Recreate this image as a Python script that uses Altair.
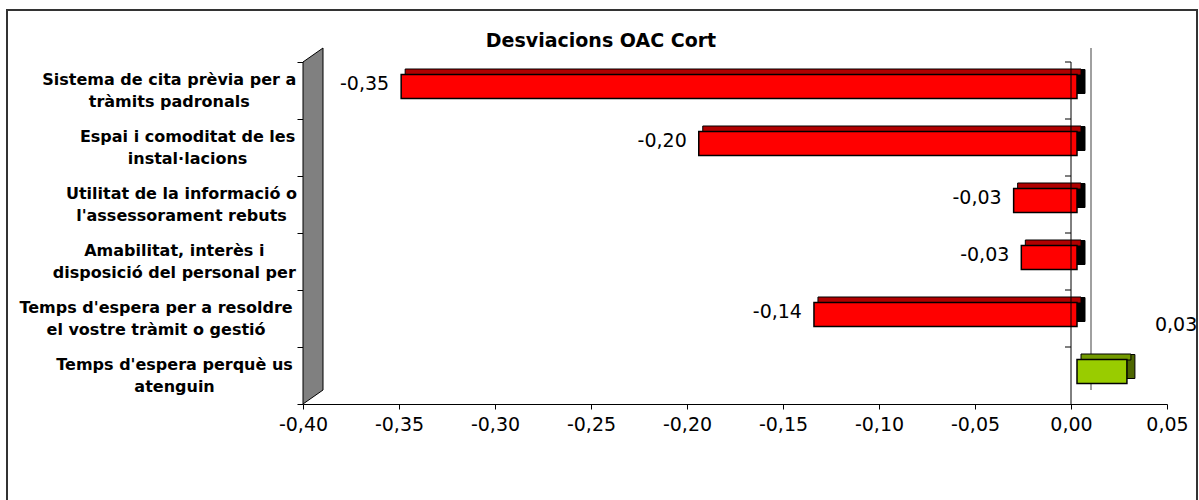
import altair as alt
import pandas as pd

# Category labels (line breaks marked with "|") and their deviation scores
categories = [
    "Sistema de cita prèvia per a|tràmits padronals",
    "Espai i comoditat de les|instal·lacions",
    "Utilitat de la informació o|l'assessorament rebuts",
    "Amabilitat, interès i|disposició del personal per",
    "Temps d'espera per a resoldre|el vostre tràmit o gestió",
    "Temps d'espera perquè us|atenguin",
]
deviations = [-0.352, -0.197, -0.033, -0.029, -0.137, 0.026]
tick_values = [-0.40, -0.35, -0.30, -0.25, -0.20, -0.15, -0.10, -0.05, 0.00, 0.05]
title_text = "Desviacions OAC Cort"

# Plot geometry (pixels)
W, H = 864, 342
WALL_DX, WALL_DY = 20, 14      # depth of the 3D side wall
BAR_DX, BAR_DY = 6, -4         # bars sit halfway into the depth
DEPTH_X, DEPTH_Y = 8, 5        # depth of each 3D bar
LABEL_RIGHT = -7               # right edge of the category label block

df = pd.DataFrame({"cat": categories, "v": deviations})
wall_df = pd.DataFrame({"px": [0, WALL_DX], "ptop": [0, -WALL_DY], "pbot": [H, H - WALL_DY]})
one = pd.DataFrame({"k": [0]})

num_fmt = "replace(replace(format({0}, '.2f'), '.', ','), '\u2212', '-')"


def count_expr(s, cls):
    return f"(length({s}) - length(replace({s}, regexp('{cls}', 'g'), '')))"


def width_expr(s):
    # rough text width of a line in bold 16px DejaVu Sans
    return (f"(10.8 * length({s}) - 5.2 * {count_expr(s, '[il·., ]')}"
            f" - 3.3 * {count_expr(s, '[rtf]')} + 5.9 * {count_expr(s, 'm')})")


x_scale = alt.Scale(domain=[-0.40, 0.05], nice=False, zero=False)
x_axis = alt.Axis(
    values=tick_values, labelExpr=num_fmt.format("datum.value"), title=None,
    grid=False, tickSize=5, tickColor="black", domainColor="black",
    labelFont="DejaVu Sans", labelFontSize=19, labelColor="black",
    labelPadding=6, labelFlush=False, labelOverlap=False,
)
y_scale = alt.Scale(paddingInner=0, paddingOuter=0)
y_axis = alt.Axis(labels=False, title=None, domain=False, ticks=True,
                  tickBand="extent", tickSize=6, tickColor="black")


def y_enc(**kw):
    return alt.Y("cat:N", sort=categories, scale=y_scale, axis=y_axis, **kw)


base = alt.Chart(df).transform_calculate(
    lo="min(0, datum.v)",
    hi="max(0, datum.v)",
    face="datum.v < 0 ? '#FF0000' : '#99CC00'",
    topc="datum.v < 0 ? '#B00000' : '#739A00'",
    side="datum.v < 0 ? '#000000' : '#4D6600'",
    txt=num_fmt.format("datum.v"),
)
xe = alt.X("lo:Q", scale=x_scale, axis=x_axis)

# 3D bar: back box (right side), top face, then front face
side = base.mark_bar(
    size=24, xOffset=BAR_DX + DEPTH_X, x2Offset=BAR_DX + DEPTH_X,
    yOffset=BAR_DY - DEPTH_Y, stroke="black", strokeWidth=1,
).encode(x=xe, x2="hi:Q", y=y_enc(), color=alt.Color("side:N", scale=None))

top = base.mark_bar(
    size=DEPTH_Y + 1, xOffset=BAR_DX + DEPTH_X / 2, x2Offset=BAR_DX + DEPTH_X / 2,
    yOffset=BAR_DY - 12 - DEPTH_Y / 2, stroke="black", strokeWidth=1,
).encode(x=xe, x2="hi:Q", y=y_enc(), color=alt.Color("topc:N", scale=None))

front = base.mark_bar(
    size=24, xOffset=BAR_DX, x2Offset=BAR_DX, yOffset=BAR_DY,
    stroke="black", strokeWidth=1.5,
).encode(x=xe, x2="hi:Q", y=y_enc(), color=alt.Color("face:N", scale=None))

neg_labels = base.transform_filter("datum.v < 0").mark_text(
    align="right", baseline="middle", dx=-6, dy=-7,
    font="DejaVu Sans", fontSize=19, color="black",
).encode(x=alt.X("v:Q", scale=x_scale, axis=x_axis), y=y_enc(), text="txt:N")

pos_labels = base.transform_filter("datum.v >= 0").mark_text(
    align="left", baseline="middle", dx=34, dy=-51,
    font="DejaVu Sans", fontSize=19, color="black",
).encode(x=alt.X("v:Q", scale=x_scale, axis=x_axis), y=y_enc(), text="txt:N")

# Category axis crossing at zero, with its tick marks
zero_line = alt.Chart(one).mark_rule(color="black", strokeWidth=1).encode(
    x=alt.X(datum=0, scale=x_scale, axis=x_axis), y=alt.value(0), y2=alt.value(H)
)
zero_ticks = alt.Chart(df).mark_rule(color="black", xOffset=-6).encode(
    x=alt.X(datum=0, scale=x_scale, axis=x_axis), x2=alt.X2(datum=0),
    y=y_enc(bandPosition=0),
)
back_zero = alt.Chart(one).mark_rule(color="#808080", strokeWidth=1.5, xOffset=WALL_DX).encode(
    x=alt.X(datum=0, scale=x_scale, axis=x_axis),
    y=alt.value(-WALL_DY), y2=alt.value(H - WALL_DY),
)

main = alt.layer(back_zero, side, top, front, zero_line, zero_ticks, neg_labels, pos_labels)

# Grey side wall of the 3D plot
wall = alt.Chart(wall_df).mark_area(fill="#808080", stroke="black", strokeWidth=1).encode(
    x=alt.X("px:Q", scale=None, axis=None),
    y=alt.Y("ptop:Q", scale=None, axis=None),
    y2="pbot:Q",
)

# Two-line category labels, centred inside a right-aligned block
cat_labels = alt.Chart(df).transform_calculate(
    l1="split(datum.cat, '|')[0]",
    l2="split(datum.cat, '|')[1]",
).transform_calculate(
    w1=width_expr("datum.l1"),
    w2=width_expr("datum.l2"),
).transform_calculate(
    lx=f"{LABEL_RIGHT} - max(datum.w1, datum.w2) / 2",
).mark_text(
    lineBreak="|", align="center", baseline="middle", lineHeight=22, dy=-11,
    font="DejaVu Sans", fontWeight="bold", fontSize=16, color="black",
).encode(
    x=alt.X("lx:Q", scale=None, axis=None),
    y=alt.Y("cat:N", sort=categories, scale=y_scale, axis=None),
    text="cat:N",
)

title = alt.Chart(one).mark_text(
    text=title_text, font="DejaVu Sans", fontWeight="bold", fontSize=19,
    align="center", baseline="middle", color="black",
).encode(x=alt.value(298), y=alt.value(-21))

frame = alt.Chart(one).mark_rect(fillOpacity=0, stroke="#333333", strokeWidth=2).encode(
    x=alt.value(-296), x2=alt.value(894), y=alt.value(-52), y2=alt.value(460)
)

chart = alt.layer(frame, title, wall, cat_labels, main).resolve_scale(
    x="independent", y="independent"
).properties(
    width=W, height=H, autosize="none",
    padding={"left": 303, "top": 62, "right": 32, "bottom": 96},
    background="white",
).configure_view(stroke=None)

chart.save("out.html", embed_options={"renderer": "svg", "actions": False})
